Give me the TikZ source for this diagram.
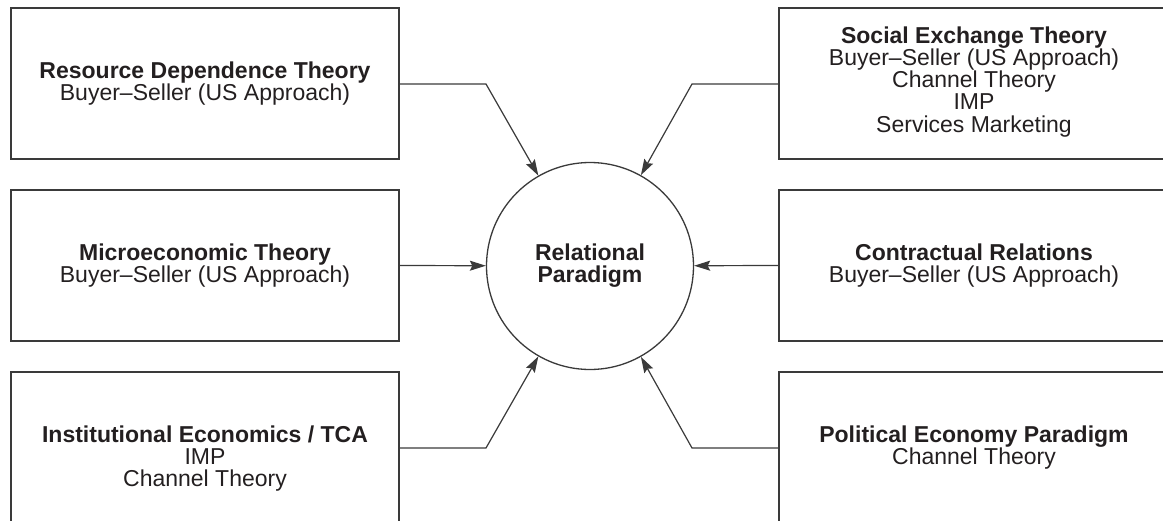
\documentclass[tikz,border=0pt]{standalone}
\usepackage{fontspec}
\setmainfont{Liberation Sans}
\usetikzlibrary{arrows.meta}
\definecolor{ink}{HTML}{231F20}
\definecolor{rule}{HTML}{3A3A3A}
\begin{document}
\begin{tikzpicture}[x=1pt,y=-1pt,
  theorybox/.style={draw=rule,line width=1.3pt,minimum width=388pt,minimum height=151pt,inner sep=0pt},
  hub/.style={draw=rule,line width=1.3pt,circle,minimum size=207pt,inner sep=0pt},
  % anchored at the baseline of the last line of text
  label/.style={anchor=base,align=center,inner sep=0pt,text=ink,
    font=\fontsize{23}{22.3}\selectfont},
  feed/.style={draw=rule,line width=1.2pt,-{Stealth[length=16pt,width=10pt,inset=2.5pt]}}]
  \useasboundingbox (0,0) rectangle (1163,520);
  \clip (0,0) rectangle (1163,520);

  % central concept
  \node[hub] (c) at (590,266) {};
  \node[label] (ct) at (590,282.3) {\textbf{Relational}\\\textbf{Paradigm}};

  % theory boxes, left column
  \node[theorybox] (b1) at (205,83.5) {};
  \node[theorybox] (b2) at (205,265.5) {};
  \node[theorybox] (b3) at (205,447.5) {};
  % theory boxes, right column
  \node[theorybox] (b4) at (973,83.5) {};
  \node[theorybox] (b5) at (973,265.5) {};
  \node[theorybox] (b6) at (973,447.5) {};

  % box texts
  \node[label] (t1) at (205,100.3) {\textbf{Resource Dependence Theory}\\Buyer--Seller (US Approach)};
  \node[label] (t2) at (205,282.3) {\textbf{Microeconomic Theory}\\Buyer--Seller (US Approach)};
  \node[label] (t3) at (205,486.6) {\textbf{Institutional Economics / TCA}\\IMP\\Channel Theory};
  \node[label] (t4) at (974,132.2) {\textbf{Social Exchange Theory}\\Buyer--Seller (US Approach)\\Channel Theory\\IMP\\Services Marketing};
  \node[label] (t5) at (974,282.3) {\textbf{Contractual Relations}\\Buyer--Seller (US Approach)};
  \node[label] (t6) at (974,464.3) {\textbf{Political Economy Paradigm}\\Channel Theory};

  % bend points of the diagonal connectors
  \coordinate (k1) at (486,84);
  \coordinate (k3) at (486,448);
  \coordinate (k4) at (692,84);
  \coordinate (k6) at (692,448);

  % connectors into the hub
  \draw[feed] (b1.east |- k1) -- (k1) -- (c);
  \draw[feed] (b2.east) -- (c);
  \draw[feed] (b3.east |- k3) -- (k3) -- (c);
  \draw[feed] (b4.west |- k4) -- (k4) -- (c);
  \draw[feed] (b5.west) -- (c);
  \draw[feed] (b6.west |- k6) -- (k6) -- (c);
\end{tikzpicture}
\end{document}
